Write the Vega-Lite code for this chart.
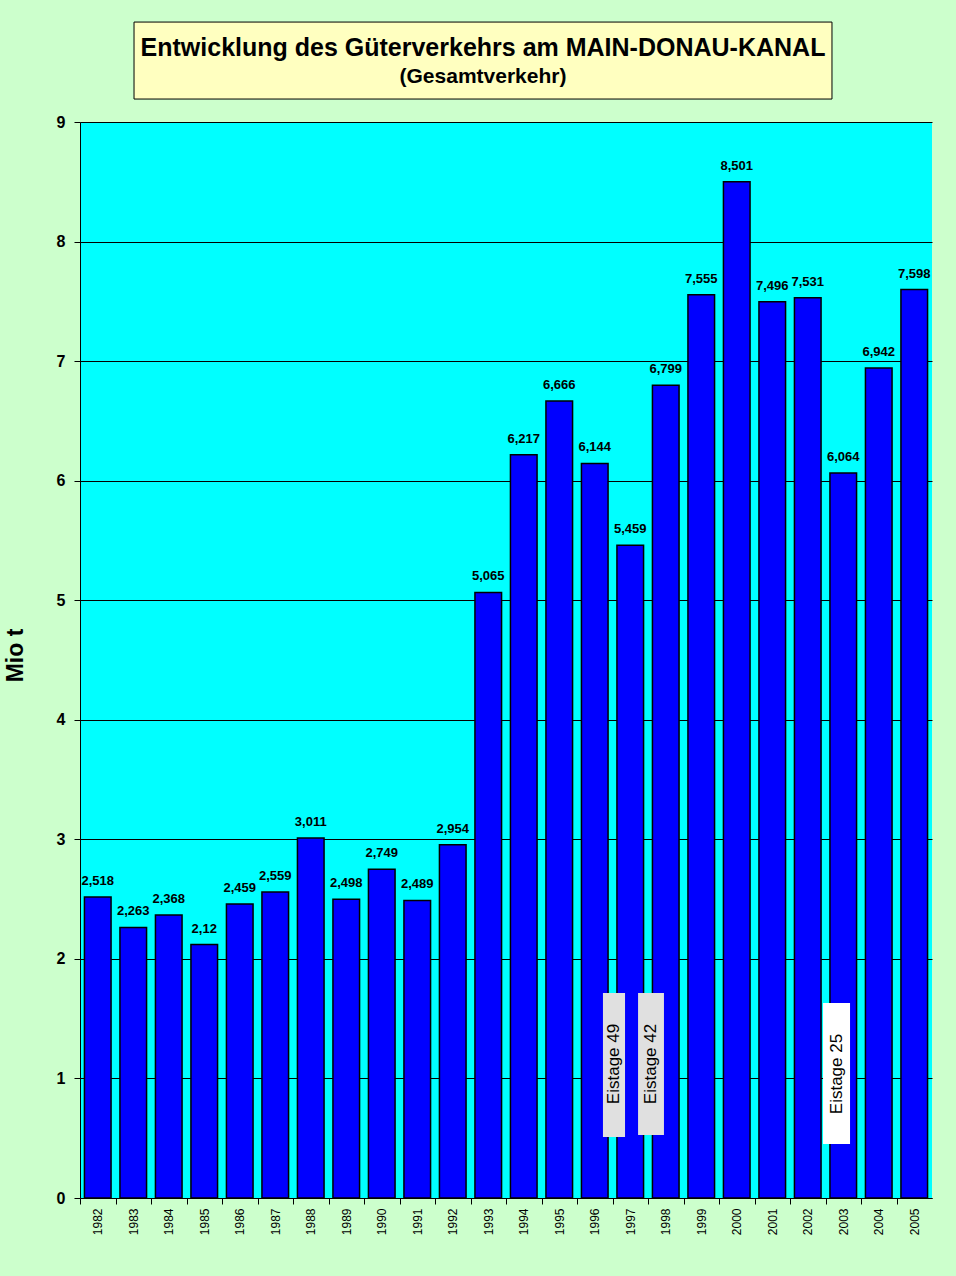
{
  "$schema": "https://vega.github.io/schema/vega-lite/v6.json",
  "width": 852,
  "height": 1076,
  "autosize": {"type": "none"},
  "padding": {"left": 80, "top": 122, "right": 24, "bottom": 78},
  "background": "#CCFFCC",
  "config": {
    "view": {"fill": "#00FFFF", "stroke": null},
    "font": "Liberation Sans"
  },
  "resolve": {"scale": {"x": "independent"}, "axis": {"x": "independent", "y": "independent"}},
  "layer": [
    {
      "data": {"values": [
        {"year": "1982", "value": 2.518, "label": "2,518"},
        {"year": "1983", "value": 2.263, "label": "2,263"},
        {"year": "1984", "value": 2.368, "label": "2,368"},
        {"year": "1985", "value": 2.12, "label": "2,12"},
        {"year": "1986", "value": 2.459, "label": "2,459"},
        {"year": "1987", "value": 2.559, "label": "2,559"},
        {"year": "1988", "value": 3.011, "label": "3,011"},
        {"year": "1989", "value": 2.498, "label": "2,498"},
        {"year": "1990", "value": 2.749, "label": "2,749"},
        {"year": "1991", "value": 2.489, "label": "2,489"},
        {"year": "1992", "value": 2.954, "label": "2,954"},
        {"year": "1993", "value": 5.065, "label": "5,065"},
        {"year": "1994", "value": 6.217, "label": "6,217"},
        {"year": "1995", "value": 6.666, "label": "6,666"},
        {"year": "1996", "value": 6.144, "label": "6,144"},
        {"year": "1997", "value": 5.459, "label": "5,459"},
        {"year": "1998", "value": 6.799, "label": "6,799"},
        {"year": "1999", "value": 7.555, "label": "7,555"},
        {"year": "2000", "value": 8.501, "label": "8,501"},
        {"year": "2001", "value": 7.496, "label": "7,496"},
        {"year": "2002", "value": 7.531, "label": "7,531"},
        {"year": "2003", "value": 6.064, "label": "6,064"},
        {"year": "2004", "value": 6.942, "label": "6,942"},
        {"year": "2005", "value": 7.598, "label": "7,598"}
      ]},
      "layer": [
        {
          "mark": {"type": "bar", "fill": "#0000FF", "stroke": "#000000", "strokeWidth": 1.5},
          "encoding": {
            "x": {
              "field": "year", "type": "ordinal",
              "scale": {"paddingInner": 0.25, "paddingOuter": 0.125},
              "axis": {
                "title": null, "labelAngle": -90, "labelAlign": "right", "labelBaseline": "middle",
                "labelFontSize": 12, "labelFontWeight": "normal", "labelColor": "#000000",
                "labelPadding": 4, "tickSize": 6, "tickColor": "#000000", "tickOffset": -17.75,
                "labelOffset": 17.75, "domainColor": "#000000", "grid": false
              }
            },
            "y": {
              "field": "value", "type": "quantitative",
              "scale": {"domain": [0, 9], "nice": false},
              "axis": {
                "title": "Mio t", "titleFontSize": 23, "titleFontWeight": "bold", "titleColor": "#000000",
                "titleX": -65, "titleY": 533, "titleAngle": 270, "titleAlign": "center", "titleBaseline": "middle",
                "labelFontSize": 16, "labelFontWeight": "bold", "labelColor": "#000000", "labelPadding": 9,
                "format": "d",
                "tickSize": 6, "tickColor": "#000000", "domainColor": "#000000",
                "grid": true, "gridColor": "#000000", "gridOpacity": 1,
                "values": [0, 1, 2, 3, 4, 5, 6, 7, 8, 9]
              }
            }
          }
        },
        {
          "mark": {"type": "text", "baseline": "bottom", "dy": -9, "fontSize": 13, "fontWeight": "bold", "color": "#000000"},
          "encoding": {
            "x": {"field": "year", "type": "ordinal"},
            "y": {"field": "value", "type": "quantitative"},
            "text": {"field": "label"}
          }
        }
      ]
    },
    {
      "data": {"values": [{"x": 0.0634, "x2": 0.8826, "y": 9.836, "y2": 9.192}]},
      "mark": {"type": "rect", "fill": "#FFFFC0", "stroke": "#000000", "strokeWidth": 1},
      "encoding": {
        "x": {"field": "x", "type": "quantitative", "scale": {"domain": [0, 1]}, "axis": null},
        "x2": {"field": "x2"},
        "y": {"field": "y", "type": "quantitative", "scale": {"domain": [0, 9], "nice": false}, "axis": null},
        "y2": {"field": "y2"}
      }
    },
    {
      "data": {"values": [{"x": 0.473, "y": 9.619, "text": "Entwicklung des Güterverkehrs am MAIN-DONAU-KANAL"}]},
      "mark": {"type": "text", "fontSize": 25, "fontWeight": "bold", "baseline": "middle", "align": "center", "color": "#000000"},
      "encoding": {
        "x": {"field": "x", "type": "quantitative", "scale": {"domain": [0, 1]}, "axis": null},
        "y": {"field": "y", "type": "quantitative", "scale": {"domain": [0, 9], "nice": false}, "axis": null},
        "text": {"field": "text"}
      }
    },
    {
      "data": {"values": [{"x": 0.473, "y": 9.376, "text": "(Gesamtverkehr)"}]},
      "mark": {"type": "text", "fontSize": 21, "fontWeight": "bold", "baseline": "middle", "align": "center", "color": "#000000"},
      "encoding": {
        "x": {"field": "x", "type": "quantitative", "scale": {"domain": [0, 1]}, "axis": null},
        "y": {"field": "y", "type": "quantitative", "scale": {"domain": [0, 9], "nice": false}, "axis": null},
        "text": {"field": "text"}
      }
    },
    {
      "data": {"values": [
        {"x": 0.6138, "x2": 0.6397, "y": 1.715, "y2": 0.51},
        {"x": 0.655, "x2": 0.6854, "y": 1.715, "y2": 0.527}
      ]},
      "mark": {"type": "rect", "fill": "#E0E0E0"},
      "encoding": {
        "x": {"field": "x", "type": "quantitative", "scale": {"domain": [0, 1]}, "axis": null},
        "x2": {"field": "x2"},
        "y": {"field": "y", "type": "quantitative", "scale": {"domain": [0, 9], "nice": false}, "axis": null},
        "y2": {"field": "y2"}
      }
    },
    {
      "data": {"values": [{"x": 0.8721, "x2": 0.9038, "y": 1.631, "y2": 0.452}]},
      "mark": {"type": "rect", "fill": "#FFFFFF"},
      "encoding": {
        "x": {"field": "x", "type": "quantitative", "scale": {"domain": [0, 1]}, "axis": null},
        "x2": {"field": "x2"},
        "y": {"field": "y", "type": "quantitative", "scale": {"domain": [0, 9], "nice": false}, "axis": null},
        "y2": {"field": "y2"}
      }
    },
    {
      "data": {"values": [
        {"x": 0.6268, "y": 1.121, "text": "Eistage 49"},
        {"x": 0.6702, "y": 1.121, "text": "Eistage 42"},
        {"x": 0.888, "y": 1.037, "text": "Eistage 25"}
      ]},
      "mark": {"type": "text", "angle": 270, "fontSize": 17, "baseline": "middle", "align": "center", "color": "#000000"},
      "encoding": {
        "x": {"field": "x", "type": "quantitative", "scale": {"domain": [0, 1]}, "axis": null},
        "y": {"field": "y", "type": "quantitative", "scale": {"domain": [0, 9], "nice": false}, "axis": null},
        "text": {"field": "text"}
      }
    }
  ]
}
